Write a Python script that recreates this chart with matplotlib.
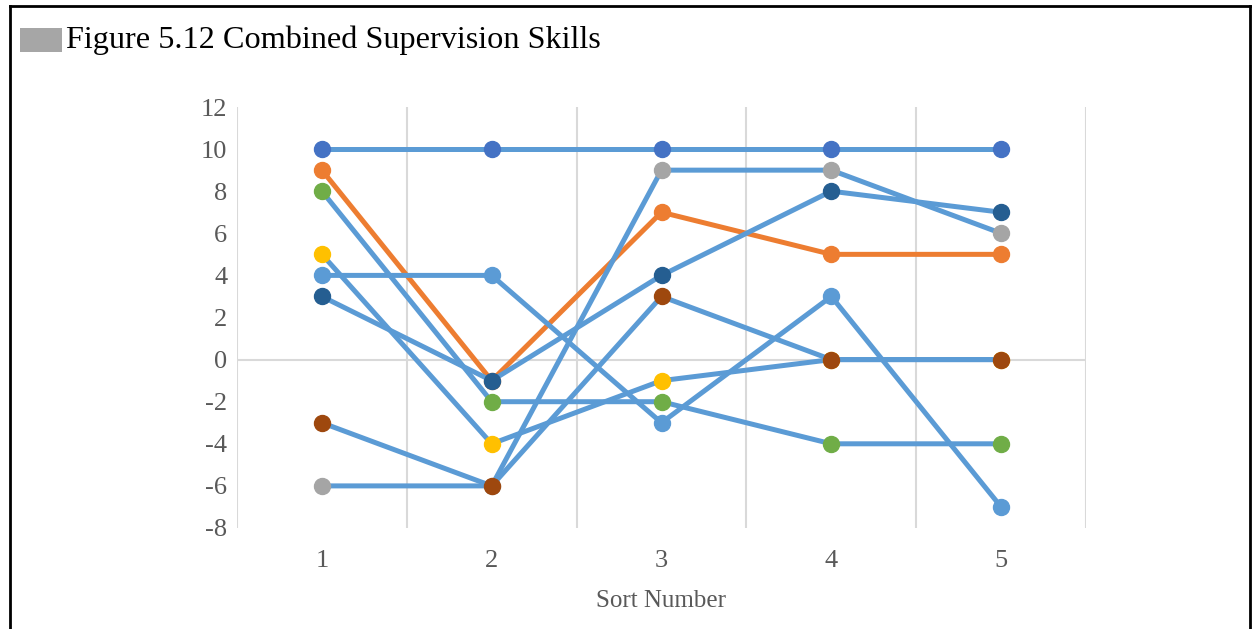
import numpy as np
import matplotlib.pyplot as plt
from matplotlib.patches import Rectangle
from matplotlib.lines import Line2D

plt.rcParams['font.family'] = ['Liberation Serif', 'DejaVu Serif']
plt.rcParams['axes.unicode_minus'] = False

# Data
sort_number = [1, 2, 3, 4, 5]
s_blue = [10, 10, 10, 10, 10]
s_orange = [9, -1, 7, 5, 5]
s_gray = [-6, -6, 9, 9, 6]
s_yellow = [5, -4, -1, 0, 0]
s_lightblue = [4, 4, -3, 3, -7]
s_green = [8, -2, -2, -4, -4]
s_darkblue = [3, -1, 4, 8, 7]
s_brown = [-3, -6, 3, 0, 0]

series = [
    (s_blue, '#4472C4', '#5B9BD5'),
    (s_orange, '#ED7D31', '#ED7D31'),
    (s_gray, '#A5A5A5', '#5B9BD5'),
    (s_yellow, '#FFC000', '#5B9BD5'),
    (s_lightblue, '#5B9BD5', '#5B9BD5'),
    (s_green, '#70AD47', '#5B9BD5'),
    (s_darkblue, '#255E91', '#5B9BD5'),
    (s_brown, '#9E480E', '#5B9BD5'),
]

fig = plt.figure(figsize=(12.56, 6.29), dpi=100)
ax = fig.add_axes([237 / 1256, 1 - 528 / 629, (1086 - 237) / 1256, (528 - 107) / 629])

for vals, mcol, lcol in series:
    ax.plot(sort_number, vals, color=lcol, linewidth=3.6, marker='o',
            markersize=11.5, markerfacecolor=mcol, markeredgecolor=mcol,
            solid_capstyle='round', zorder=3)

ax.set_xlim(0.5, 5.5)
ax.set_ylim(-8, 12)
ax.set_yticks(np.arange(-8, 13, 2))
ax.set_xticks(sort_number)
for s in ax.spines.values():
    s.set_visible(False)
ax.grid(False)
for xv in np.arange(0.5, 5.6, 1):
    ax.axvline(xv, color='#D9D9D9', linewidth=1.5, zorder=1)
ax.axhline(0, color='#D9D9D9', linewidth=1.5, zorder=1)

ax.tick_params(axis='both', which='both', length=0, labelsize=19, colors='#595959')
ax.tick_params(axis='x', pad=16)
ax.tick_params(axis='y', pad=7)
ax.set_xlabel('Sort Number', fontsize=18, color='#595959', labelpad=13)

# title bar and frame
fig.patches.append(Rectangle((20 / 1256, 1 - 52 / 629), 42 / 1256, 24 / 629,
                             transform=fig.transFigure, facecolor='#A6A6A6',
                             edgecolor='none'))
fig.text(66 / 1256, 1 - 40 / 629, 'Figure 5.12 Combined Supervision Skills',
         fontsize=23.2, color='black', va='center', ha='left')
fig.add_artist(Line2D([10 / 1256, 10 / 1256], [0, 1 - 6 / 629], transform=fig.transFigure,
                      color='black', linewidth=2))
fig.add_artist(Line2D([1250 / 1256, 1250 / 1256], [0, 1 - 6 / 629], transform=fig.transFigure,
                      color='black', linewidth=2))
fig.add_artist(Line2D([10 / 1256, 1250 / 1256], [1 - 6 / 629, 1 - 6 / 629], transform=fig.transFigure,
                      color='black', linewidth=2))

fig.savefig('out.png', dpi=100)
